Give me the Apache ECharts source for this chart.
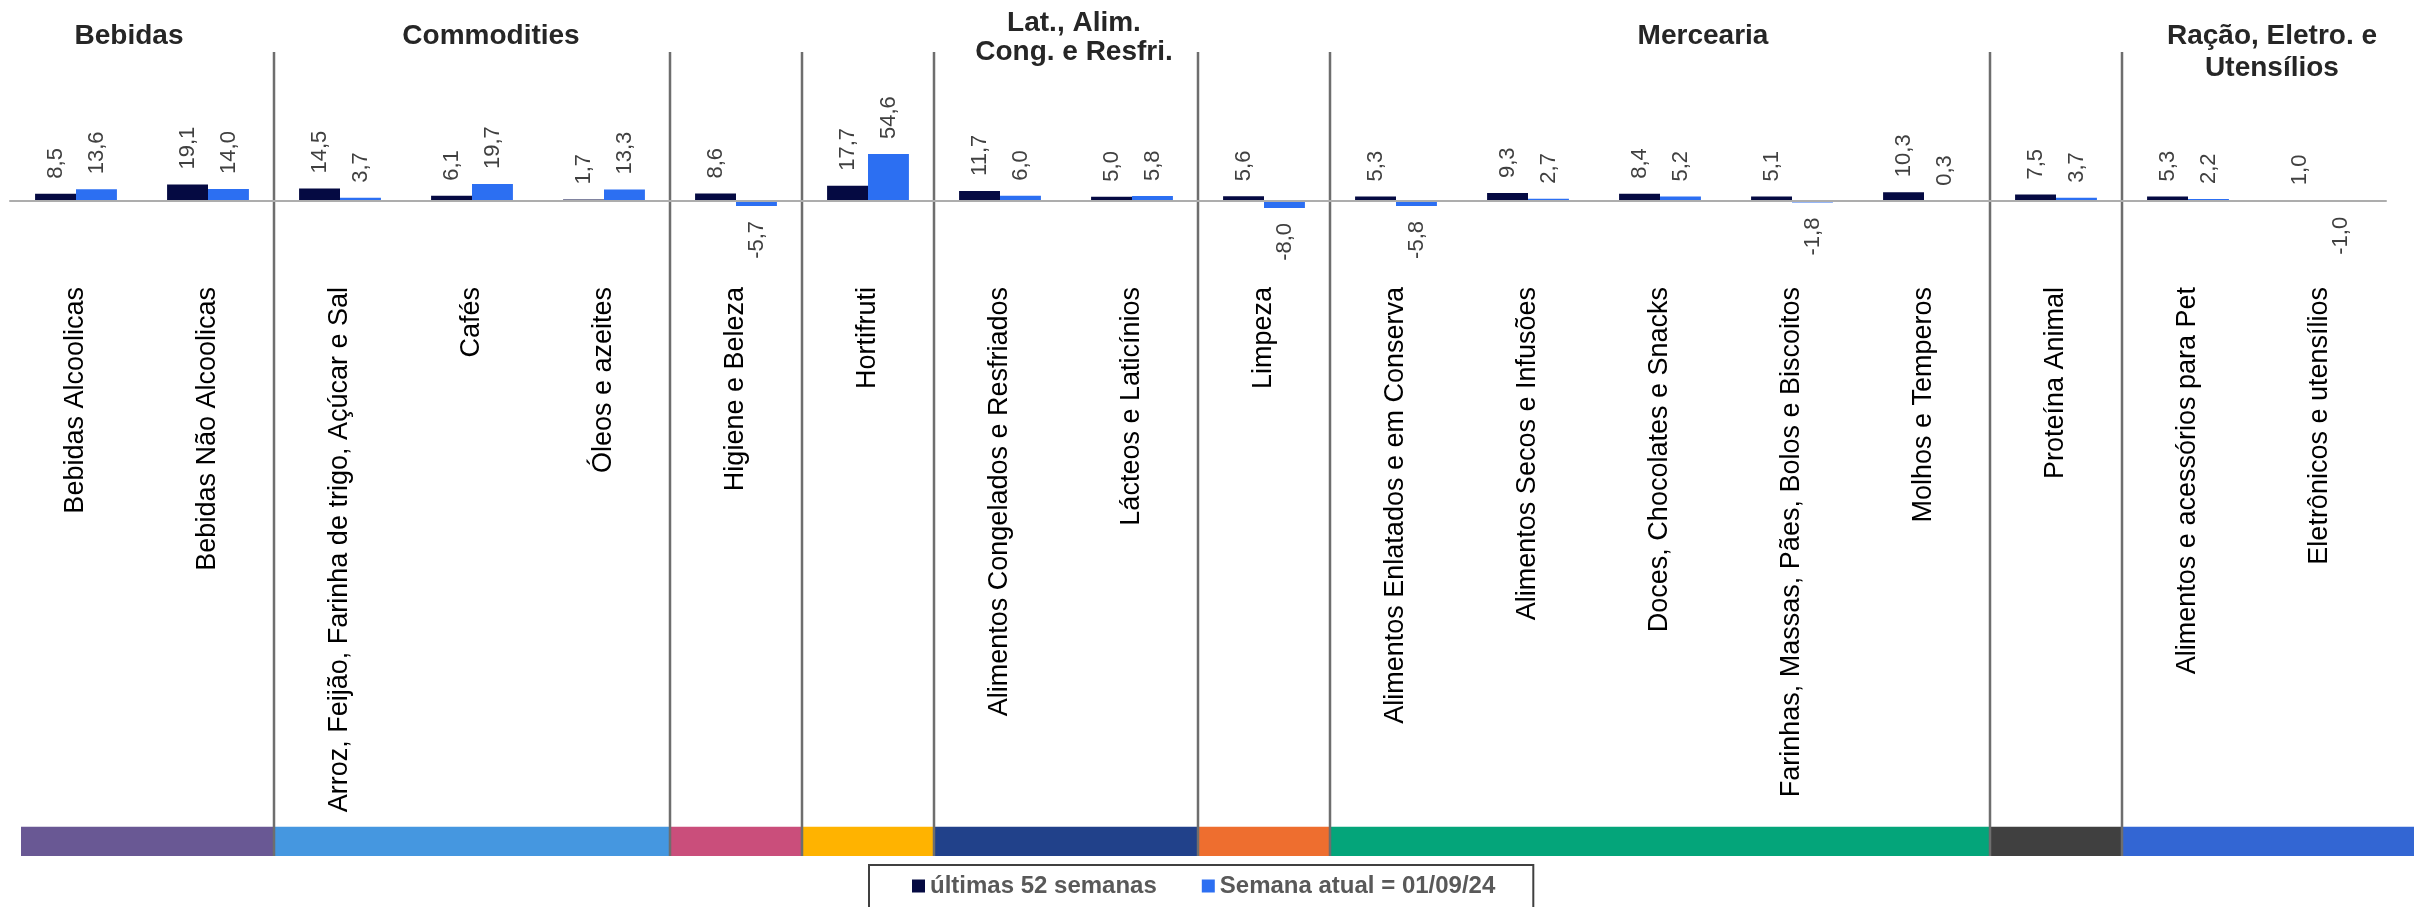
<!DOCTYPE html>
<html>
<head>
<meta charset="utf-8">
<script src="https://cdn.jsdelivr.net/npm/echarts@6/dist/echarts.min.js"></script>
<style>
html,body{margin:0;padding:0;background:#ffffff;}
#chart{width:2422px;height:907px;}
</style>
</head>
<body>
<div id="chart"></div>
<script>
// ---------- DATA ----------
const categories = [
  'Bebidas Alcoolicas',
  'Bebidas Não Alcoolicas',
  'Arroz, Feijão, Farinha de trigo, Açúcar e Sal',
  'Cafés',
  'Óleos e azeites',
  'Higiene e Beleza',
  'Hortifruti',
  'Alimentos Congelados e Resfriados',
  'Lácteos e Laticínios',
  'Limpeza',
  'Alimentos Enlatados e em Conserva',
  'Alimentos Secos e Infusões',
  'Doces, Chocolates e Snacks',
  'Farinhas, Massas, Pães, Bolos e Biscoitos',
  'Molhos e Temperos',
  'Proteína Animal',
  'Alimentos e acessórios para Pet',
  'Eletrônicos e utensílios'
];
const seriesNames = ['últimas 52 semanas', 'Semana atual = 01/09/24'];
const last52 = [8.5, 19.1, 14.5, 6.1, 1.7, 8.6, 17.7, 11.7, 5.0, 5.6, 5.3, 9.3, 8.4, 5.1, 10.3, 7.5, 5.3, 1.0];
const currentWeek = [13.6, 14.0, 3.7, 19.7, 13.3, -5.7, 54.6, 6.0, 5.8, -8.0, -5.8, 2.7, 5.2, -1.8, 0.3, 3.7, 2.2, -1.0];
const groupTitles = ['Bebidas', 'Commodities', '', '', 'Lat., Alim.\nCong. e Resfri.', '', 'Mercearia', '', 'Ração, Eletro. e\nUtensílios'];
const groupSizes = [2, 3, 1, 1, 2, 1, 5, 1, 2];
const groupColors = ['#695894', '#4597E0', '#CA4E7B', '#FFB300', '#21418A', '#EE6E2F', '#04A57A', '#404040', '#3366D3'];

// ---------- LAYOUT / STYLE ----------
const FONT = "'Liberation Sans', Arial, sans-serif";
const BAR_MAX = 173;                 // top of plot in value units (zero at bottom of bar grid)
const Y_MAX = 173, Y_MIN = -760, BAND_TOP = -726;   // decoration grid scale
const titleLayout = [
  {x: 129, base: 46, lh: 30}, {x: 491, base: 46, lh: 30}, null, null, {x: 1074, base: 33, lh: 29},
  null, {x: 1703, base: 46, lh: 30}, null, {x: 2272, base: 46, lh: 32}
];
const TITLE_SIZE = 28;

function fmt(v) { return v.toFixed(1).replace('.', ','); }
function barData(arr) {
  return arr.map(v => ({
    value: v,
    label: v < 0
      ? {position: 'bottom', align: 'right'}
      : {position: 'top', align: 'left'}
  }));
}

const bandData = [];
const sepData = [];
let acc = 0;
groupSizes.forEach((n, i) => {
  bandData.push([acc, acc + n, i]);
  acc += n;
  if (i < groupSizes.length - 1) sepData.push([acc, 0]);
});
const TOTAL = acc;

const graphics = [];
groupTitles.forEach((t, i) => {
  if (!t || !titleLayout[i]) return;
  t.split('\n').forEach((line, li) => {
    graphics.push({
      type: 'text',
      style: {
        x: titleLayout[i].x,
        y: titleLayout[i].base + li * titleLayout[i].lh - 0.3465 * TITLE_SIZE,
        text: line,
        fill: '#262626',
        font: 'bold ' + TITLE_SIZE + 'px ' + FONT,
        textAlign: 'center',
        textVerticalAlign: 'middle'
      },
      z: 10
    });
  });
});

const labelCommon = {
  show: true,
  rotate: 90,
  distance: 15,
  verticalAlign: 'middle',
  fontFamily: FONT,
  fontSize: 22,
  color: '#404040',
  formatter: p => fmt(p.value)
};

const chart = echarts.init(document.getElementById('chart'), null, {renderer: 'canvas'});
chart.setOption({
  animation: false,
  backgroundColor: '#ffffff',
  graphic: graphics,
  legend: {
    data: seriesNames,
    left: 869,
    top: 865,
    orient: 'horizontal',
    icon: 'rect',
    itemWidth: 13,
    itemHeight: 13,
    itemGap: 45,
    padding: [9, 38, 22, 43],
    borderColor: '#404040',
    borderWidth: 2,
    borderRadius: 0,
    textStyle: {fontFamily: FONT, fontSize: 24, fontWeight: 'bold', color: '#595959'}
  },
  grid: [
    // bars: bottom edge is the zero line
    {left: 10, right: 36, top: 52, bottom: 706, containLabel: false, outerBoundsMode: 'none'},
    // decoration: separators and colour band
    {left: 10, right: 36, top: 52, bottom: 51, containLabel: false, outerBoundsMode: 'none'}
  ],
  xAxis: [
    {
      type: 'category',
      gridIndex: 0,
      data: categories,
      axisLine: {show: true, onZero: false, lineStyle: {color: '#ADADAD', width: 2}},
      axisTick: {show: false},
      splitLine: {show: false},
      axisLabel: {
        interval: 0,
        rotate: 90,
        margin: 86,
        fontFamily: FONT,
        fontSize: 27,
        color: '#000000'
      },
      z: 5
    },
    {
      type: 'value',
      gridIndex: 1,
      min: 0,
      max: TOTAL,
      show: false
    }
  ],
  yAxis: [
    {
      type: 'value',
      gridIndex: 0,
      min: 0,
      max: BAR_MAX,
      axisLine: {show: false},
      axisTick: {show: false},
      axisLabel: {show: false},
      splitLine: {show: false}
    },
    {
      type: 'value',
      gridIndex: 1,
      min: Y_MIN,
      max: Y_MAX,
      axisLine: {show: false},
      axisTick: {show: false},
      axisLabel: {show: false},
      splitLine: {show: false}
    }
  ],
  series: [
    {
      type: 'custom',
      name: 'band',
      xAxisIndex: 1,
      yAxisIndex: 1,
      clip: false,
      silent: true,
      z: 1,
      data: bandData,
      renderItem: function (params, api) {
        const s = api.value(0), e = api.value(1);
        const p1 = api.coord([s, BAND_TOP]);
        const p2 = api.coord([e, Y_MIN]);
        let x1 = p1[0], x2 = p2[0];
        if (s === 0) x1 += 11;
        if (e === TOTAL) x2 += 28;
        return {
          type: 'rect',
          shape: {x: x1, y: p1[1], width: x2 - x1, height: p2[1] - p1[1]},
          style: {fill: groupColors[api.value(2)]}
        };
      }
    },
    {
      type: 'custom',
      name: 'sep',
      xAxisIndex: 1,
      yAxisIndex: 1,
      clip: false,
      silent: true,
      z: 3,
      data: sepData,
      renderItem: function (params, api) {
        const b = api.value(0);
        const p1 = api.coord([b, Y_MAX]);
        const p2 = api.coord([b, Y_MIN]);
        return {
          type: 'line',
          shape: {x1: p1[0], y1: p1[1], x2: p2[0], y2: p2[1]},
          style: {stroke: '#6E6E6E', lineWidth: 2.5}
        };
      }
    },
    {
      type: 'bar',
      name: seriesNames[0],
      xAxisIndex: 0,
      yAxisIndex: 0,
      data: barData(last52),
      barGap: '0%',
      barCategoryGap: '38%',
      clip: false,
      itemStyle: {color: '#050A42'},
      label: labelCommon,
      z: 4
    },
    {
      type: 'bar',
      name: seriesNames[1],
      xAxisIndex: 0,
      yAxisIndex: 0,
      data: barData(currentWeek),
      barGap: '0%',
      barCategoryGap: '38%',
      clip: false,
      itemStyle: {color: '#2C6FF2'},
      label: labelCommon,
      z: 4
    }
  ]
});
</script>
</body>
</html>
